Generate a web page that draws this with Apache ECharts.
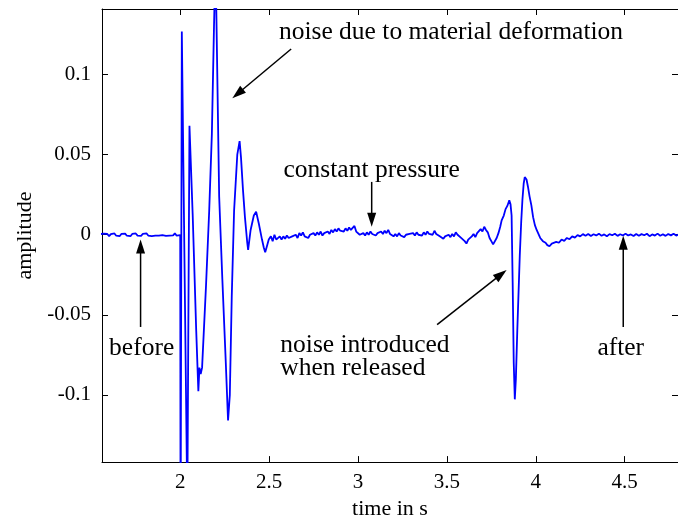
<!DOCTYPE html>
<html><head><meta charset="utf-8">
<script src="https://cdn.jsdelivr.net/npm/echarts@6/dist/echarts.min.js"></script>
<style>html,body{margin:0;padding:0;background:#fff}#c{width:678px;height:525px}</style>
</head><body><div id="c"></div>
<script>
// ---- data (time in s, amplitude) ----
const xTicks = [2, 2.5, 3, 3.5, 4, 4.5];
const yTicks = [-0.1, -0.05, 0, 0.05, 0.1];

const quietBefore = [[1.55,0.0004],[1.56,-0.0006],[1.57,0.0007],[1.58,-0.0003],[1.59,0.0005],[1.60,-0.0009],[1.61,0.0004],[1.62,-0.0004],[1.63,0.0008],[1.64,-0.0006],[1.65,0.0002],[1.66,-0.0008],[1.67,0.0006],[1.68,-0.0002],[1.69,0.0007],[1.70,-0.0006],[1.71,0.0003],[1.72,-0.0009],[1.73,0.0005],[1.74,-0.0003],[1.75,0.0008],[1.76,-0.0005],[1.77,0.0002],[1.78,-0.0007],[1.79,0.0006],[1.80,-0.0004],[1.81,0.0009],[1.82,-0.0005],[1.83,0.0004],[1.84,-0.0008],[1.85,0.0002],[1.86,-0.0005],[1.87,0.0007],[1.88,-0.0006],[1.89,0.0005],[1.90,-0.0003],[1.91,0.0008],[1.92,-0.0007],[1.93,0.0003],[1.94,-0.0005],[1.95,0.0006],[1.96,-0.0004],[1.97,0.0009],[1.98,-0.0006],[1.99,0.0002],[2.00,-0.0003]];

const impact = [[2.002,-0.2],[2.009,0.127],[2.040,-0.17],[2.052,0.068],[2.070,0.013],[2.090,-0.06],[2.102,-0.0977],[2.108,-0.083],[2.115,-0.087],[2.123,-0.083],[2.145,-0.032],[2.163,0.015],[2.178,0.063],[2.190,0.13],[2.196,0.16],[2.203,0.14],[2.219,0.024],[2.237,-0.028],[2.256,-0.079],[2.269,-0.116],[2.279,-0.1],[2.290,-0.038],[2.303,0.015],[2.321,0.050],[2.334,0.0585],[2.342,0.048],[2.353,0.028],[2.364,0.011],[2.377,-0.005],[2.382,-0.0095],[2.396,0.003],[2.414,0.012],[2.427,0.0144],[2.442,0.007],[2.460,-0.003],[2.470,-0.008],[2.478,-0.011],[2.488,-0.007],[2.498,-0.003],[2.51,-0.001],[2.52,-0.004],[2.53,0.0],[2.54,-0.003]];

const hold = [[2.55,-0.003],[2.56,-0.001],[2.57,-0.003],[2.58,-0.001],[2.59,-0.0025],[2.60,-0.0005],[2.61,-0.002],[2.62,-0.003],[2.63,-0.001],[2.64,-0.002],[2.65,0.0],[2.66,-0.002],[2.67,0.001],[2.68,-0.0005],[2.69,0.0015],[2.70,-0.001],[2.71,0.0],[2.72,-0.002],[2.73,0.0],[2.74,-0.001],[2.75,0.001],[2.76,-0.0005],[2.77,0.0015],[2.78,0.0],[2.79,0.002],[2.80,-0.0005],[2.81,0.001],[2.82,0.0],[2.83,0.002],[2.84,0.0005],[2.85,0.003],[2.86,0.0015],[2.87,0.0035],[2.88,0.002],[2.89,0.004],[2.90,0.0025],[2.91,0.0035],[2.92,0.002],[2.93,0.004],[2.94,0.0025],[2.95,0.0045],[2.96,0.003],[2.97,0.004],[2.98,0.0055],[2.99,0.002],[3.00,0.003],[3.01,0.0],[3.02,-0.001],[3.03,0.001],[3.04,-0.0005],[3.05,0.0015],[3.06,0.0],[3.07,0.002],[3.08,0.0005],[3.09,0.0015],[3.10,-0.0005],[3.11,0.001],[3.12,0.0],[3.13,0.002],[3.14,0.0005],[3.15,0.0025],[3.16,0.001],[3.17,0.003],[3.18,0.0005],[3.19,0.0015],[3.20,-0.001],[3.21,0.0005],[3.22,-0.001],[3.23,0.001],[3.24,-0.0005],[3.25,0.0005],[3.26,-0.0015],[3.27,0.0],[3.28,-0.001],[3.29,0.0005],[3.30,-0.0005],[3.31,0.001],[3.32,-0.0005],[3.33,0.0015],[3.34,0.0],[3.35,0.001],[3.36,-0.0005],[3.37,0.0015],[3.38,0.0],[3.39,0.002],[3.40,0.0005],[3.41,0.0015],[3.42,0.0],[3.43,0.0025],[3.44,0.0005],[3.45,0.001],[3.46,-0.001],[3.47,0.0],[3.48,-0.0025],[3.49,-0.001],[3.50,-0.002],[3.51,0.0],[3.52,-0.0015],[3.53,0.0005],[3.54,-0.001],[3.55,0.0015],[3.56,0.0],[3.57,0.001],[3.58,-0.002],[3.59,-0.001],[3.60,-0.004],[3.61,-0.0055],[3.62,-0.003],[3.63,-0.004],[3.64,-0.001],[3.65,0.0005],[3.66,-0.0015],[3.67,0.001],[3.68,0.002],[3.69,0.0035],[3.70,0.002],[3.71,0.005],[3.72,0.003],[3.73,0.0015],[3.74,-0.002],[3.75,-0.004],[3.76,-0.006]];

const release = [[3.77,-0.005],[3.78,-0.002],[3.79,0.001],[3.80,0.005],[3.808,0.009],[3.82,0.012],[3.83,0.016],[3.84,0.018],[3.851,0.0216],[3.858,0.019],[3.864,0.012],[3.870,-0.03],[3.876,-0.08],[3.882,-0.1028],[3.888,-0.09],[3.896,-0.06],[3.910,-0.013],[3.918,0.008],[3.925,0.022],[3.932,0.032],[3.938,0.036],[3.948,0.0345],[3.956,0.03],[3.965,0.024],[3.975,0.0185],[3.985,0.011],[3.995,0.006],[4.005,0.003],[4.015,0.0005],[4.025,-0.002],[4.04,-0.004],[4.055,-0.005],[4.065,-0.0065],[4.077,-0.0072],[4.09,-0.0055],[4.10,-0.0065],[4.115,-0.0045],[4.13,-0.005],[4.145,-0.003],[4.16,-0.0038],[4.175,-0.002],[4.19,-0.0028],[4.205,-0.001],[4.22,-0.0018],[4.235,-0.0002],[4.25,-0.001]];

const quietAfter = [[4.265,0.0004],[4.28,-0.0006],[4.295,0.0005],[4.31,-0.0008],[4.325,0.0003],[4.34,-0.0004],[4.355,0.0007],[4.37,-0.0006],[4.385,0.0002],[4.40,-0.0009],[4.415,0.0004],[4.43,-0.0003],[4.445,0.0006],[4.46,-0.0007],[4.475,0.0003],[4.49,-0.0005],[4.505,0.0007],[4.52,-0.0004],[4.535,0.0002],[4.55,-0.0008],[4.565,0.0005],[4.58,-0.0006],[4.595,0.0004],[4.61,-0.0003],[4.625,0.0006],[4.64,-0.0009],[4.655,0.0002],[4.67,-0.0005],[4.685,0.0007],[4.70,-0.0006],[4.715,0.0003],[4.73,-0.0007],[4.745,0.0005],[4.76,-0.0004],[4.775,0.0006],[4.79,-0.0005],[4.805,0.0002]];

const signal = [].concat(quietBefore, impact, hold, release, quietAfter);

// ---- annotations (data coordinates) ----
const noteTexts = ['noise due to material deformation','constant pressure','before','after','noise introduced','when released'];
const noteAt = [[3.523,0.1265],[3.077,0.0405],[1.783,-0.0708],[4.478,-0.0708],[2.563,-0.0688],[2.563,-0.0832]];
const noteAlign = ['center','center','center','center','left','left'];
const arrowFrom = [[1.777,-0.0576],[4.492,-0.0576],[3.077,0.033],[2.624,0.116],[3.445,-0.0561]];
const arrowTo   = [[1.777,-0.003],[4.492,-0.0006],[3.077,0.005],[2.293,0.0853],[3.836,-0.022]];

const FONT = 'Liberation Serif';
const chart = echarts.init(document.getElementById('c'), null, {renderer:'canvas'});
const lbl = v => String(+(+v).toFixed(4));
function axisBase(extra){
  return Object.assign({
    type:'value', splitLine:{show:false},
    axisLine:{onZero:false, lineStyle:{color:'#000', width:1}},
  }, extra);
}
chart.setOption({
  animation:false,
  backgroundColor:'#fff',
  grid:{left:102, top:9, width:581.3, height:461, containLabel:false},
  xAxis:[
    axisBase({min:1.56, max:4.8, position:'bottom',
      axisTick:{inside:true, length:6, customValues:xTicks, lineStyle:{color:'#000'}},
      axisLabel:{customValues:xTicks, formatter:lbl, color:'#000', fontFamily:FONT, fontSize:21, margin:10},
      name:'time in s', nameLocation:'middle', nameGap:35,
      nameTextStyle:{color:'#000', fontFamily:FONT, fontSize:22}}),
    axisBase({min:1.56, max:4.8, position:'top',
      axisTick:{inside:true, length:6, customValues:xTicks, lineStyle:{color:'#000'}},
      axisLabel:{show:false}})
  ],
  yAxis:[
    axisBase({min:-0.142, max:0.141, position:'left',
      axisTick:{inside:true, length:6, customValues:yTicks, lineStyle:{color:'#000'}},
      axisLabel:{customValues:yTicks, formatter:lbl, color:'#000', fontFamily:FONT, fontSize:21, margin:11},
      name:'amplitude', nameLocation:'middle', nameGap:66,
      nameTextStyle:{color:'#000', fontFamily:FONT, fontSize:22}}),
    axisBase({min:-0.142, max:0.141, position:'right',
      axisTick:{inside:true, length:6, customValues:yTicks, lineStyle:{color:'#000'}},
      axisLabel:{show:false}})
  ],
  series:[{
    type:'line', data:signal, showSymbol:false, symbol:'none', clip:true,
    lineStyle:{color:'#0000ff', width:1.8}, z:2
  }]
});

const g = [];
noteTexts.forEach((t,i)=>{
  const p = chart.convertToPixel({gridIndex:0}, noteAt[i]);
  g.push({type:'text', x:p[0], y:p[1], z:10,
    style:{text:t, fill:'#000', font:'25.5px "'+FONT+'"', align:noteAlign[i], verticalAlign:'middle'}});
});
arrowFrom.forEach((f,i)=>{
  const p1 = chart.convertToPixel({gridIndex:0}, f);
  const p2 = chart.convertToPixel({gridIndex:0}, arrowTo[i]);
  const dx=p2[0]-p1[0], dy=p2[1]-p1[1], L=Math.hypot(dx,dy), ux=dx/L, uy=dy/L;
  const hl=14, hw=4.5;
  const bx=p2[0]-ux*hl, by=p2[1]-uy*hl;
  g.push({type:'line', z:10, shape:{x1:p1[0],y1:p1[1],x2:bx+ux*2,y2:by+uy*2}, style:{stroke:'#000', lineWidth:1.5}});
  g.push({type:'polygon', z:10, shape:{points:[[p2[0],p2[1]],[bx-uy*hw,by+ux*hw],[bx+uy*hw,by-ux*hw]]}, style:{fill:'#000'}});
});
chart.setOption({graphic:g});
</script></body></html>
